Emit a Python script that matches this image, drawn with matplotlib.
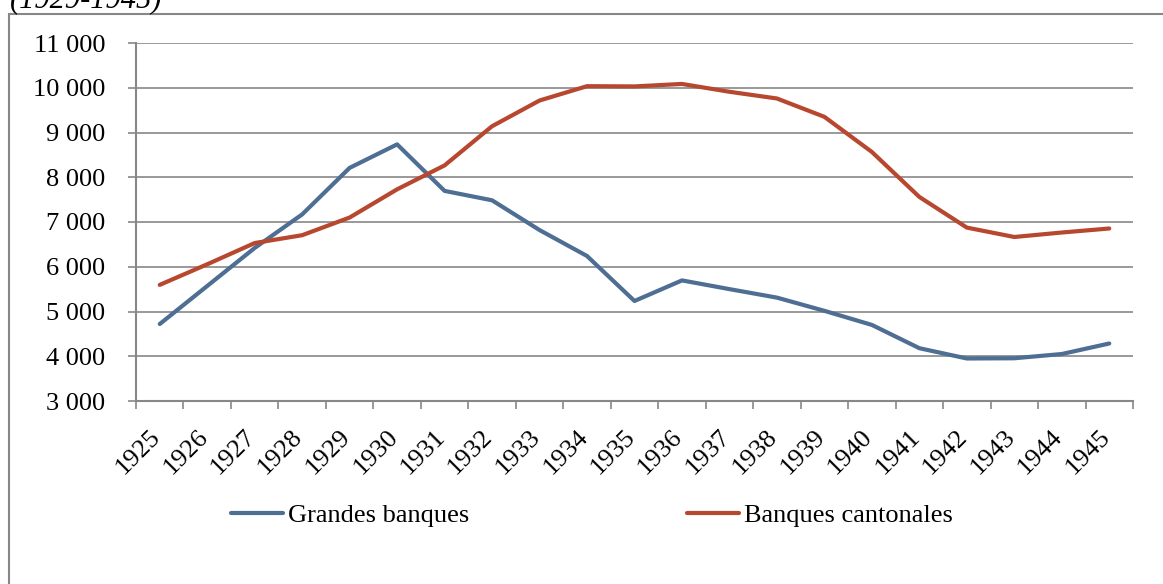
import numpy as np
import matplotlib
matplotlib.use('Agg')
import matplotlib.pyplot as plt
import matplotlib.transforms as mtransforms
from matplotlib.patches import Rectangle
from matplotlib.ticker import FuncFormatter, FixedLocator

years = list(range(1925, 1946))
grandes = [4720, 5570, 6420, 7170, 8210, 8735, 7695, 7485, 6820, 6240,
           5235, 5695, 5500, 5310, 5015, 4700, 4180, 3950, 3955, 4050, 4285]
cantonales = [5595, 6055, 6530, 6705, 7100, 7730, 8265, 9140, 9715, 10035,
              10030, 10085, 9910, 9760, 9350, 8565, 7560, 6875, 6665, 6765, 6855]

blue = '#4f6e93'
red = '#b8472f'
grey = '#878787'
fs = 19

plt.rcParams['font.family'] = ['Liberation Serif', 'DejaVu Serif']

fig = plt.figure(figsize=(11.63, 5.84), dpi=100)
ax = fig.add_axes([136 / 1163, 1 - 401 / 584, (1133 - 136) / 1163, (401 - 43) / 584])

x = np.arange(len(years))
ax.plot(x, grandes, color=blue, lw=3, solid_capstyle='round', label='Grandes banques')
ax.plot(x, cantonales, color=red, lw=3, solid_capstyle='round', label='Banques cantonales')

ax.set_xlim(-0.5, len(years) - 0.5)
ax.set_ylim(3000, 11000)
ax.set_yticks(np.arange(3000, 11001, 1000))
ax.yaxis.set_major_formatter(FuncFormatter(lambda v, p: f'{int(v):,}'.replace(',', ' ')))
ax.grid(axis='y', color=grey, lw=1.2)
ax.set_axisbelow(True)

# ticks between categories, labels at category centres
ax.xaxis.set_major_locator(FixedLocator(np.arange(-0.5, len(years), 1)))
ax.xaxis.set_major_formatter(FuncFormatter(lambda v, p: ''))
ax.set_xticks(x, minor=True)
ax.set_xticklabels([str(y) for y in years], minor=True, rotation=45, ha='right',
                   va='top', fontsize=fs)
ax.tick_params(axis='x', which='minor', length=0, pad=18)
ax.tick_params(axis='x', which='major', length=5.8, width=1.2, color=grey)
ax.tick_params(axis='y', length=5.8, width=1.2, color=grey, labelsize=fs, pad=16.5)

shift = mtransforms.ScaledTranslation(5 / 100, 0, fig.dpi_scale_trans)
for lab in ax.get_xticklabels(minor=True):
    lab.set_transform(lab.get_transform() + shift)

for s in ['top', 'right']:
    ax.spines[s].set_visible(False)
for s in ['left', 'bottom']:
    ax.spines[s].set_color(grey)
    ax.spines[s].set_linewidth(1.5)

fig.legend(loc='center', bbox_to_anchor=(592 / 1163, 1 - 515 / 584), ncol=2,
           frameon=False, fontsize=fs, handlelength=1.95, handletextpad=0.2,
           columnspacing=8.25)

# outer chart border, cut off at the right and bottom
fig.patches.append(Rectangle((9 / 1163, -0.1), 1.2, 1.1 - 14 / 584,
                             transform=fig.transFigure, fill=False,
                             edgecolor=grey, lw=1.5))

fig.text(10 / 1163, 1 - 7 / 584, '(1929-1945)', fontsize=22, style='italic',
         va='baseline', ha='left')

fig.savefig('out.png', dpi=100)
